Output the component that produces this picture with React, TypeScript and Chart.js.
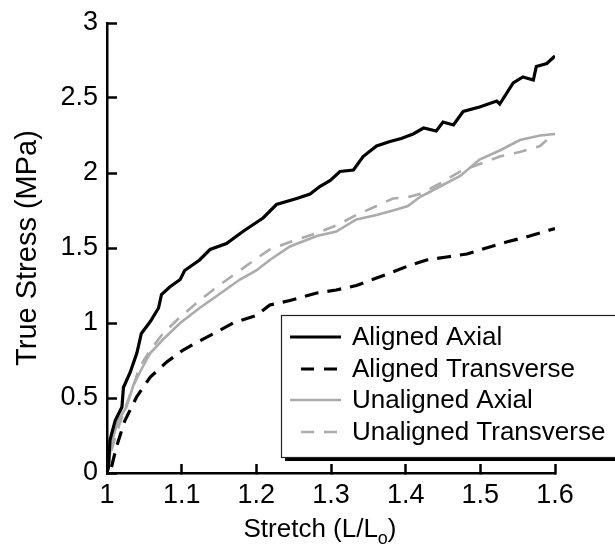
import React, { useEffect, useRef } from "react";
import { Chart, registerables } from "chart.js";

Chart.register(...registerables);

const FONT = "'Liberation Sans', Arial, sans-serif";

const seriesLabels = ["Aligned Axial", "Aligned Transverse", "Unaligned Axial", "Unaligned Transverse"];

const xTickValues = [1, 1.1, 1.2, 1.3, 1.4, 1.5, 1.6];
const yTickValues = [0, 0.5, 1, 1.5, 2, 2.5, 3];

const alignedAxialX = [1.000, 1.002, 1.004, 1.011, 1.020, 1.022, 1.031, 1.040, 1.046, 1.058, 1.069, 1.073, 1.084, 1.098, 1.104, 1.124, 1.138, 1.160, 1.182, 1.200, 1.209, 1.227, 1.254, 1.272, 1.285, 1.299, 1.312, 1.330, 1.343, 1.361, 1.379, 1.394, 1.410, 1.424, 1.441, 1.450, 1.464, 1.477, 1.499, 1.522, 1.526, 1.544, 1.557, 1.571, 1.575, 1.589, 1.600];
const alignedAxialY = [0.00, 0.04, 0.22, 0.35, 0.44, 0.57, 0.67, 0.80, 0.93, 1.01, 1.10, 1.19, 1.24, 1.29, 1.35, 1.42, 1.49, 1.53, 1.61, 1.67, 1.70, 1.79, 1.83, 1.86, 1.91, 1.95, 2.01, 2.02, 2.11, 2.18, 2.21, 2.23, 2.26, 2.30, 2.28, 2.34, 2.32, 2.41, 2.44, 2.48, 2.46, 2.60, 2.64, 2.62, 2.71, 2.73, 2.78];

const alignedTransX = [1.006, 1.008, 1.013, 1.024, 1.040, 1.058, 1.080, 1.102, 1.124, 1.147, 1.169, 1.200, 1.218, 1.245, 1.281, 1.307, 1.334, 1.361, 1.383, 1.403, 1.428, 1.455, 1.482, 1.508, 1.535, 1.566, 1.593, 1.600];
const alignedTransY = [0.04, 0.08, 0.18, 0.35, 0.51, 0.64, 0.74, 0.82, 0.88, 0.94, 1.00, 1.05, 1.12, 1.15, 1.20, 1.22, 1.25, 1.30, 1.34, 1.38, 1.42, 1.44, 1.46, 1.50, 1.54, 1.58, 1.62, 1.63];

const unalignedAxialX = [1.000, 1.002, 1.006, 1.015, 1.026, 1.035, 1.046, 1.058, 1.075, 1.098, 1.124, 1.147, 1.178, 1.200, 1.218, 1.245, 1.281, 1.307, 1.334, 1.361, 1.383, 1.403, 1.419, 1.446, 1.473, 1.499, 1.526, 1.553, 1.580, 1.600];
const unalignedAxialY = [0.00, 0.06, 0.20, 0.35, 0.44, 0.58, 0.69, 0.80, 0.89, 1.00, 1.10, 1.18, 1.29, 1.35, 1.42, 1.51, 1.58, 1.61, 1.69, 1.72, 1.75, 1.78, 1.84, 1.91, 1.98, 2.09, 2.15, 2.22, 2.25, 2.26];

const unalignedTransX = [1.000, 1.004, 1.011, 1.022, 1.033, 1.044, 1.058, 1.075, 1.098, 1.124, 1.147, 1.178, 1.200, 1.218, 1.245, 1.281, 1.307, 1.334, 1.361, 1.383, 1.403, 1.419, 1.446, 1.473, 1.499, 1.526, 1.553, 1.580, 1.589];
const unalignedTransY = [0.00, 0.11, 0.24, 0.40, 0.55, 0.71, 0.82, 0.93, 1.04, 1.15, 1.24, 1.35, 1.43, 1.49, 1.54, 1.60, 1.65, 1.72, 1.78, 1.83, 1.84, 1.86, 1.93, 2.01, 2.06, 2.11, 2.14, 2.18, 2.22];

const zip = (xs: number[], ys: number[]) => xs.map((x, i) => ({ x, y: ys[i] }));

const GRAY = "#ababab";

const decorPlugin = {
  id: "decor",
  afterDraw(chart: any) {
    const ctx: CanvasRenderingContext2D = chart.ctx;
    const { top, bottom } = chart.chartArea;
    ctx.save();
    ctx.setLineDash([]);

    // y title
    ctx.fillStyle = "#000";
    ctx.font = `29px ${FONT}`;
    ctx.textAlign = "center";
    ctx.textBaseline = "middle";
    ctx.save();
    ctx.translate(28, (top + bottom) / 2);
    ctx.rotate(-Math.PI / 2);
    ctx.fillText("True Stress (MPa)", 0, 0);
    ctx.restore();

    // x title with subscript
    const main1 = "Stretch (L/L";
    const sub = "o";
    const main2 = ")";
    ctx.textBaseline = "alphabetic";
    ctx.textAlign = "left";
    ctx.font = `26px ${FONT}`;
    const w1 = ctx.measureText(main1).width;
    const w3 = ctx.measureText(main2).width;
    ctx.font = `18px ${FONT}`;
    const w2 = ctx.measureText(sub).width;
    const total = w1 + w2 + w3;
    const x0 = 320 - total / 2;
    const base = 537;
    ctx.font = `26px ${FONT}`;
    ctx.fillText(main1, x0, base);
    ctx.font = `18px ${FONT}`;
    ctx.fillText(sub, x0 + w1, base + 7);
    ctx.font = `26px ${FONT}`;
    ctx.fillText(main2, x0 + w1 + w2, base);

    // legend box
    const lx = 281, ly = 315, lw = 400, lh = 142;
    ctx.fillStyle = "#000";
    ctx.fillRect(lx + 4, ly + lh, lw, 4);
    ctx.fillStyle = "#fff";
    ctx.fillRect(lx, ly, lw, lh);
    ctx.strokeStyle = "#222";
    ctx.lineWidth = 1.2;
    ctx.strokeRect(lx + 0.5, ly + 0.5, lw, lh);

    const rows = [337, 369, 400, 432];
    chart.data.datasets.forEach((ds: any, i: number) => {
      const y = rows[i];
      ctx.save();
      ctx.strokeStyle = ds.borderColor;
      ctx.lineWidth = ds.borderWidth;
      const dashed = ds.borderDash && ds.borderDash.length;
      ctx.setLineDash(dashed ? [13, 10] : []);
      ctx.beginPath();
      if (dashed) {
        ctx.moveTo(301, y);
        ctx.lineTo(340, y);
      } else {
        ctx.moveTo(290, y);
        ctx.lineTo(341, y);
      }
      ctx.stroke();
      ctx.restore();
      ctx.fillStyle = "#000";
      ctx.font = `26px ${FONT}`;
      ctx.textAlign = "left";
      ctx.textBaseline = "middle";
      ctx.fillText(ds.label, 352, y + 1);
    });
    ctx.restore();
  },
};

export default function App() {
  const ref = useRef<HTMLCanvasElement | null>(null);
  useEffect(() => {
    document.body.style.margin = "0";
    const canvas = ref.current!;
    const chart = new Chart(canvas, {
      type: "line",
      data: {
        datasets: [
          {
            label: seriesLabels[0],
            data: zip(alignedAxialX, alignedAxialY),
            borderColor: "#000",
            borderWidth: 3.2,
            pointRadius: 0,
            tension: 0,
          },
          {
            label: seriesLabels[1],
            data: zip(alignedTransX, alignedTransY),
            borderColor: "#000",
            borderWidth: 3.2,
            borderDash: [14, 9],
            pointRadius: 0,
            tension: 0,
          },
          {
            label: seriesLabels[2],
            data: zip(unalignedAxialX, unalignedAxialY),
            borderColor: GRAY,
            borderWidth: 2.6,
            pointRadius: 0,
            tension: 0,
          },
          {
            label: seriesLabels[3],
            data: zip(unalignedTransX, unalignedTransY),
            borderColor: GRAY,
            borderWidth: 2.6,
            borderDash: [13, 10],
            pointRadius: 0,
            tension: 0,
          },
        ],
      },
      options: {
        responsive: false,
        animation: false,
        layout: { padding: { left: 0, right: 60, top: 23, bottom: 0 } },
        plugins: { legend: { display: false }, tooltip: { enabled: false } },
        scales: {
          x: {
            type: "linear",
            min: 1,
            max: 1.6,
            afterBuildTicks: (s: any) => {
              s.ticks = xTickValues.map((v) => ({ value: v }));
            },
            afterFit: (s: any) => {
              s.height = 73;
              s.paddingTop = 0;
              s.paddingBottom = 0;
            },
            grid: {
              display: true,
              drawOnChartArea: false,
              drawTicks: true,
              tickLength: -9,
              tickColor: "#000",
              tickWidth: 2.5,
              color: "#000",
            },
            border: { display: true, color: "#000", width: 2.5 },
            ticks: {
              color: "#000",
              font: { family: FONT, size: 27 },
              padding: 15,
              maxRotation: 0,
              autoSkip: false,
              callback: (v: any) => String(Number(Number(v).toFixed(1))),
            },
          },
          y: {
            type: "linear",
            min: 0,
            max: 3,
            afterBuildTicks: (s: any) => {
              s.ticks = yTickValues.map((v) => ({ value: v }));
            },
            afterFit: (s: any) => {
              s.width = 107;
              s.paddingTop = 0;
              s.paddingBottom = 0;
            },
            grid: {
              display: true,
              drawOnChartArea: false,
              drawTicks: true,
              tickLength: -10,
              tickColor: "#000",
              tickWidth: 2.5,
              color: "#000",
            },
            border: { display: true, color: "#000", width: 2.5 },
            ticks: {
              color: "#000",
              font: { family: FONT, size: 27 },
              padding: 19,
              autoSkip: false,
              callback: (v: any) => String(Number(Number(v).toFixed(1))),
            },
          },
        },
      },
      plugins: [decorPlugin],
    } as any);
    return () => chart.destroy();
  }, []);
  return (
    <div style={{ position: "absolute", left: 0, top: 0, width: 615, height: 546 }}>
      <canvas ref={ref} width={615} height={546} style={{ width: "615px", height: "546px", display: "block" }} />
    </div>
  );
}
